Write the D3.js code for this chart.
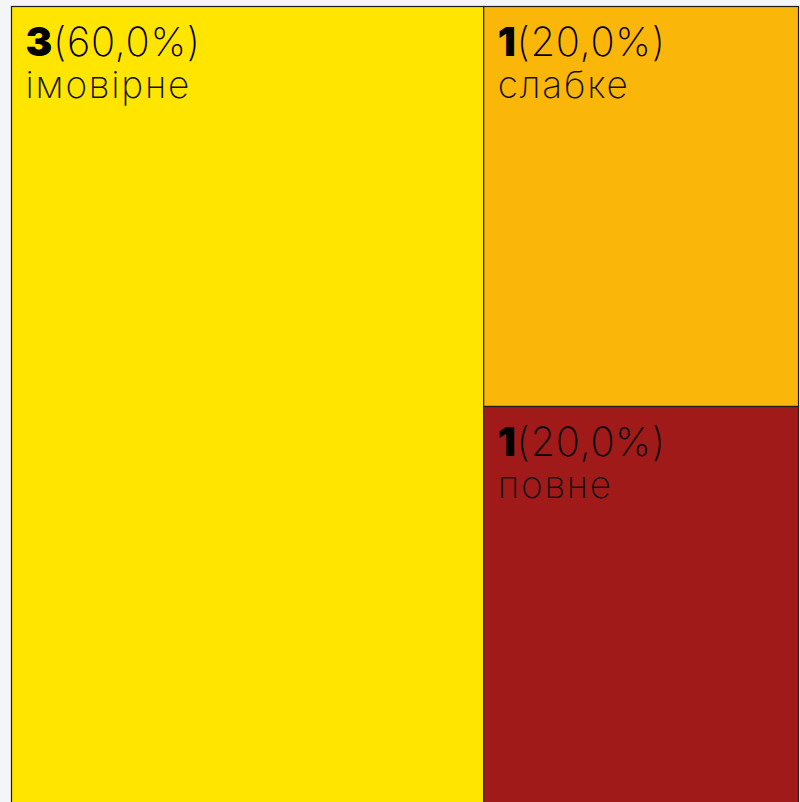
<!DOCTYPE html>
<html>
<head>
  <meta charset="UTF-8">
  <script src="https://d3js.org/d3.v7.min.js"></script>
  <style>
    body { margin: 0; background: #f4f5f8; overflow: hidden; }
  </style>
</head>
<body>
  <script>
    // chart data
    var categories = ["імовірне", "слабке", "повне"];
    var counts = [3, 1, 1];
    var colors = ["#ffe500", "#fbb60a", "#a11a1a"];

    var width = 800;
    var height = 802;
    var svg = d3.select("body")
      .append("svg")
      .attr("width", width)
      .attr("height", height);

    var total = d3.sum(counts);
    var fmt = function(v) {
      return "(" + d3.format(".1f")(v * 100).replace(".", ",") + "%)";
    };

    var root = d3.hierarchy({
        children: categories.map(function(c, i) {
          return { name: c, value: counts[i], color: colors[i] };
        })
      })
      .sum(function(d) { return d.value || 0; });

    // biggest item takes a full-height column, the rest stack on the right
    var columnTile = function(node, x0, y0, x1, y1) {
      var kids = node.children;
      var first = kids[0];
      var xm = x0 + (x1 - x0) * first.value / node.value;
      first.x0 = x0; first.x1 = xm; first.y0 = y0; first.y1 = y1;
      var rest = { children: kids.slice(1), value: node.value - first.value };
      d3.treemapSlice(rest, xm, y0, x1, y1);
    };

    d3.treemap()
      .tile(columnTile)
      .size([787, 800])(root);

    var g = svg.append("g").attr("transform", "translate(11.5,6.5)");

    var cell = g.selectAll("g")
      .data(root.leaves())
      .enter()
      .append("g")
      .attr("transform", function(d) {
        return "translate(" + d.x0 + "," + d.y0 + ")";
      });

    cell.append("rect")
      .attr("width", function(d) { return d.x1 - d.x0; })
      .attr("height", function(d) { return d.y1 - d.y0; })
      .attr("fill", function(d) { return d.data.color; })
      .attr("stroke", "#1c1c1c")
      .attr("stroke-width", 1.2);

    var label = cell.append("text")
      .attr("x", 14)
      .attr("y", 49)
      .style("font-family", "Inter, 'Noto Sans', sans-serif")
      .style("font-size", "40px")
      .style("letter-spacing", "0.7px")
      .attr("fill", "#000");

    label.append("tspan")
      .style("font-weight", 900)
      .text(function(d) { return d.value; });
    label.append("tspan")
      .style("font-weight", 200)
      .text(function(d) { return fmt(d.value / total); });

    cell.append("text")
      .attr("x", 14)
      .attr("y", 91)
      .style("font-family", "Inter, 'Noto Sans', sans-serif")
      .style("font-size", "37px")
      .style("letter-spacing", "1.8px")
      .style("font-weight", 200)
      .attr("fill", "#111")
      .text(function(d) { return d.data.name; });
  </script>
</body>
</html>
